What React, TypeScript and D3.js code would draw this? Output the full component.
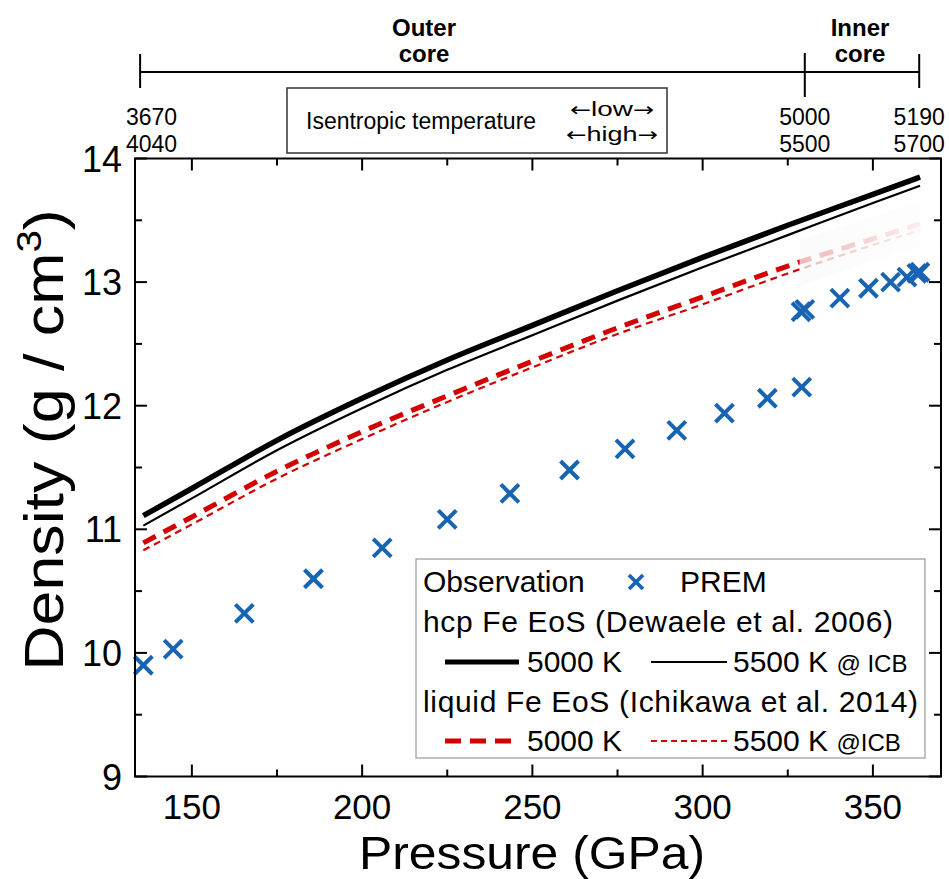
import React, { useEffect } from 'react';
import * as d3 from 'd3';

// ---- data ----
const pressureGrid = [135.75, 150, 175, 200, 225, 250, 275, 300, 325, 350, 363.85];
const hcp5000 = [11.11, 11.33, 11.72, 12.06, 12.37, 12.65, 12.93, 13.2, 13.46, 13.71, 13.85];
const hcp5500 = [11.03, 11.25, 11.64, 11.98, 12.29, 12.57, 12.85, 13.12, 13.38, 13.64, 13.78];
const liq5000 = [10.89, 11.1, 11.47, 11.79, 12.08, 12.36, 12.63, 12.88, 13.13, 13.35, 13.47];
const liq5500 = [10.83, 11.04, 11.41, 11.73, 12.03, 12.31, 12.58, 12.82, 13.07, 13.3, 13.42];

const premPressure = [135.75, 144.5, 165.4, 185.7, 205.9, 225.0, 243.4, 260.9, 277.2, 292.4, 306.4, 319.0, 329.1, 328.9, 330.0, 340.3, 348.7, 355.2, 360.0, 362.9, 363.8];
const premDensity = [9.9, 10.03, 10.32, 10.6, 10.85, 11.08, 11.29, 11.48, 11.65, 11.8, 11.94, 12.06, 12.15, 12.76, 12.78, 12.87, 12.95, 13.0, 13.04, 13.07, 13.08];

const xTicksMajor = [150, 200, 250, 300, 350];
const xTicksMinor = [175, 225, 275, 325];
const yTicksMajor = [9, 10, 11, 12, 13, 14];
const yTicksMinor = [9.5, 10.5, 11.5, 12.5, 13.5];

const coreBoundaries = [134.8, 330, 363.6];
const tempLow = ['3670', '5000', '5190'];
const tempHigh = ['4040', '5500', '5700'];
const liquidFadeStart = 328.5;

const FONT = '"Liberation Sans", Arial, Helvetica, sans-serif';
const ARROWFONT = '"DejaVu Sans", sans-serif';
const RED = '#d40000';
const BLUE = '#1764b3';

function XMark({ cx, cy, s, w }: { cx: number; cy: number; s: number; w: number }) {
  return (
    <g stroke={BLUE} strokeWidth={w} strokeLinecap="butt">
      <line x1={cx - s} y1={cy - s} x2={cx + s} y2={cy + s} />
      <line x1={cx - s} y1={cy + s} x2={cx + s} y2={cy - s} />
    </g>
  );
}

export default function App() {
  useEffect(() => {
    document.body.style.margin = '0';
  }, []);
  const W = 949, H = 879;
  const L = 135, R = 941, T = 158.5, B = 776.5;
  const x = d3.scaleLinear().domain([133.3, 370]).range([L, R]);
  const y = d3.scaleLinear().domain([9, 14]).range([B, T]);
  const mk = (arr: number[]) =>
    d3.line<number>().x((_, i) => x(pressureGrid[i])).y((d) => y(d)).curve(d3.curveMonotoneX)(arr) || '';

  const xFade = x(liquidFadeStart);
  const xEnd = x(pressureGrid[pressureGrid.length - 1]);

  // faint band over the faded liquid curves
  const upper = d3.scaleLinear().domain(pressureGrid).range(liq5000);
  const lower = d3.scaleLinear().domain(pressureGrid).range(liq5500);
  const bandP = [liquidFadeStart, 340, 350, 363.85];
  const band = d3
    .area<number>()
    .x((p) => x(p))
    .y0((p) => y(lower(p)) + 16)
    .y1((p) => y(upper(p)) - 22)(bandP) || '';

  // legend geometry
  const lgL = 416, lgT = 559, lgR = 925, lgB = 758;
  const rows = [592, 632, 672, 712, 751];

  return (
    <svg width={W} height={H} style={{ position: 'absolute', left: 0, top: 0 }} fontFamily={FONT}>
      <rect width={W} height={H} fill="#fff" />
      <defs>
        <linearGradient id="fadeGrad" gradientUnits="userSpaceOnUse" x1={xFade} x2={xEnd + 10} y1={0} y2={0}>
          <stop offset="0" stopColor="#fff" stopOpacity={0.28} />
          <stop offset="1" stopColor="#fff" stopOpacity={0.04} />
        </linearGradient>
        <linearGradient id="bandGrad" gradientUnits="userSpaceOnUse" x1={xFade} x2={xEnd + 10} y1={0} y2={0}>
          <stop offset="0" stopColor="#aaa" stopOpacity={0.05} />
          <stop offset="1" stopColor="#aaa" stopOpacity={0.02} />
        </linearGradient>
        <mask id="liqMask" maskUnits="userSpaceOnUse" x={0} y={0} width={W} height={H}>
          <rect x={0} y={0} width={xFade} height={H} fill="#fff" />
          <rect x={xFade} y={0} width={W - xFade} height={H} fill="url(#fadeGrad)" />
        </mask>
        <clipPath id="plotClip">
          <rect x={L} y={T} width={R - L} height={B - T} />
        </clipPath>
      </defs>

      {/* top bracket: outer / inner core */}
      <g stroke="#000" strokeWidth={2}>
        <line x1={x(coreBoundaries[0])} x2={x(coreBoundaries[2])} y1={72} y2={72} />
        <line x1={x(coreBoundaries[0])} x2={x(coreBoundaries[0])} y1={54} y2={88} />
        <line x1={x(coreBoundaries[1])} x2={x(coreBoundaries[1])} y1={53} y2={97} />
        <line x1={x(coreBoundaries[2])} x2={x(coreBoundaries[2])} y1={54} y2={88} />
      </g>
      <g fontWeight="bold" fontSize={24} textAnchor="middle" fill="#000">
        <text x={424} y={36}>Outer</text>
        <text x={424} y={62}>core</text>
        <text x={860} y={36}>Inner</text>
        <text x={860} y={62}>core</text>
      </g>
      <g fontSize={23} fill="#000">
        <text x={126} y={125}>{tempLow[0]}</text>
        <text x={126} y={152}>{tempHigh[0]}</text>
        <text x={x(coreBoundaries[1])} y={125} textAnchor="middle">{tempLow[1]}</text>
        <text x={x(coreBoundaries[1])} y={152} textAnchor="middle">{tempHigh[1]}</text>
        <text x={x(coreBoundaries[2])} y={125} textAnchor="middle">{tempLow[2]}</text>
        <text x={x(coreBoundaries[2])} y={152} textAnchor="middle">{tempHigh[2]}</text>
      </g>
      <rect x={287} y={88} width={380} height={65} fill="none" stroke="#333" strokeWidth={1.5} />
      <g fontSize={21} fill="#000">
        <text x={306} y={129} fontSize={23}>Isentropic temperature</text>
        <text x={570} y={116} textLength={84} lengthAdjust="spacingAndGlyphs">
          <tspan fontFamily={ARROWFONT} fontSize={19}>←</tspan>low<tspan fontFamily={ARROWFONT} fontSize={19}>→</tspan>
        </text>
        <text x={566} y={141} textLength={92} lengthAdjust="spacingAndGlyphs">
          <tspan fontFamily={ARROWFONT} fontSize={19}>←</tspan>high<tspan fontFamily={ARROWFONT} fontSize={19}>→</tspan>
        </text>
      </g>

      {/* curves */}
      <g clipPath="url(#plotClip)" fill="none">
        <g mask="url(#liqMask)">
          <path d={mk(liq5000)} stroke={RED} strokeWidth={5} strokeDasharray="14,9" />
          <path d={mk(liq5500)} stroke={RED} strokeWidth={2.2} strokeDasharray="7,5" />
        </g>
        <path d={band} fill="url(#bandGrad)" stroke="none" />
        <path d={mk(hcp5000)} stroke="#000" strokeWidth={5.5} />
        <path d={mk(hcp5500)} stroke="#000" strokeWidth={2.2} />
      </g>

      {/* PREM points */}
      {premPressure.map((p, i) => (
        <XMark key={i} cx={x(p)} cy={y(premDensity[i])} s={9} w={4} />
      ))}

      {/* axes frame */}
      <rect x={L} y={T} width={R - L} height={B - T} fill="none" stroke="#000" strokeWidth={2} />
      <g stroke="#000" strokeWidth={2}>
        {xTicksMajor.map((t) => (
          <g key={'xM' + t}>
            <line x1={x(t)} x2={x(t)} y1={B} y2={B - 12} />
            <line x1={x(t)} x2={x(t)} y1={T} y2={T + 12} />
          </g>
        ))}
        {xTicksMinor.map((t) => (
          <g key={'xm' + t}>
            <line x1={x(t)} x2={x(t)} y1={B} y2={B - 7} />
            <line x1={x(t)} x2={x(t)} y1={T} y2={T + 7} />
          </g>
        ))}
        {yTicksMajor.map((t) => (
          <g key={'yM' + t}>
            <line x1={L} x2={L + 12} y1={y(t)} y2={y(t)} />
            <line x1={R} x2={R - 12} y1={y(t)} y2={y(t)} />
          </g>
        ))}
        {yTicksMinor.map((t) => (
          <g key={'ym' + t}>
            <line x1={L} x2={L + 7} y1={y(t)} y2={y(t)} />
            <line x1={R} x2={R - 7} y1={y(t)} y2={y(t)} />
          </g>
        ))}
      </g>
      <g fontSize={35} fill="#000" textAnchor="middle">
        {xTicksMajor.map((t) => (
          <text key={'xl' + t} x={x(t)} y={819}>{t}</text>
        ))}
      </g>
      <g fontSize={36} fill="#000" textAnchor="end">
        {yTicksMajor.map((t) => (
          <text key={'yl' + t} x={122} y={y(t) + 13}>{t}</text>
        ))}
      </g>
      <text transform="translate(532,869) scale(1.06,1)" fontSize={47} textAnchor="middle" fill="#000">Pressure (GPa)</text>
      <text transform={`translate(63,440) rotate(-90) scale(1.12,1)`} fontSize={56} textAnchor="middle" fill="#000">
        Density (g / cm<tspan dy={-22} fontSize={36}>3</tspan><tspan dy={22}>)</tspan>
      </text>

      {/* legend */}
      <rect x={lgL} y={lgT} width={lgR - lgL} height={lgB - lgT} fill="#fff" stroke="#999" strokeWidth={1.2} />
      <g fontSize={30} fill="#000">
        <text x={423} y={rows[0]}>Observation</text>
        <text x={680} y={rows[0]}>PREM</text>
        <text x={423} y={rows[1]} textLength={470} lengthAdjust="spacing">hcp Fe EoS (Dewaele et al. 2006)</text>
        <text x={527} y={rows[2]}>5000 K</text>
        <text x={733} y={rows[2]}>5500 K <tspan fontSize={24}>@ ICB</tspan></text>
        <text x={423} y={rows[3]} textLength={495} lengthAdjust="spacing">liquid Fe EoS (Ichikawa et al. 2014)</text>
        <text x={527} y={rows[4]}>5000 K</text>
        <text x={733} y={rows[4]}>5500 K <tspan fontSize={24}>@ICB</tspan></text>
      </g>
      <XMark cx={636} cy={rows[0] - 10} s={7} w={3.8} />
      <line x1={445} x2={519} y1={rows[2] - 10} y2={rows[2] - 10} stroke="#000" strokeWidth={5} />
      <line x1={651} x2={727} y1={rows[2] - 10} y2={rows[2] - 10} stroke="#000" strokeWidth={2} />
      <line x1={445} x2={512} y1={rows[4] - 10} y2={rows[4] - 10} stroke={RED} strokeWidth={5} strokeDasharray="16,9" />
      <line x1={651} x2={727} y1={rows[4] - 10} y2={rows[4] - 10} stroke={RED} strokeWidth={2} strokeDasharray="6,4" />
    </svg>
  );
}
